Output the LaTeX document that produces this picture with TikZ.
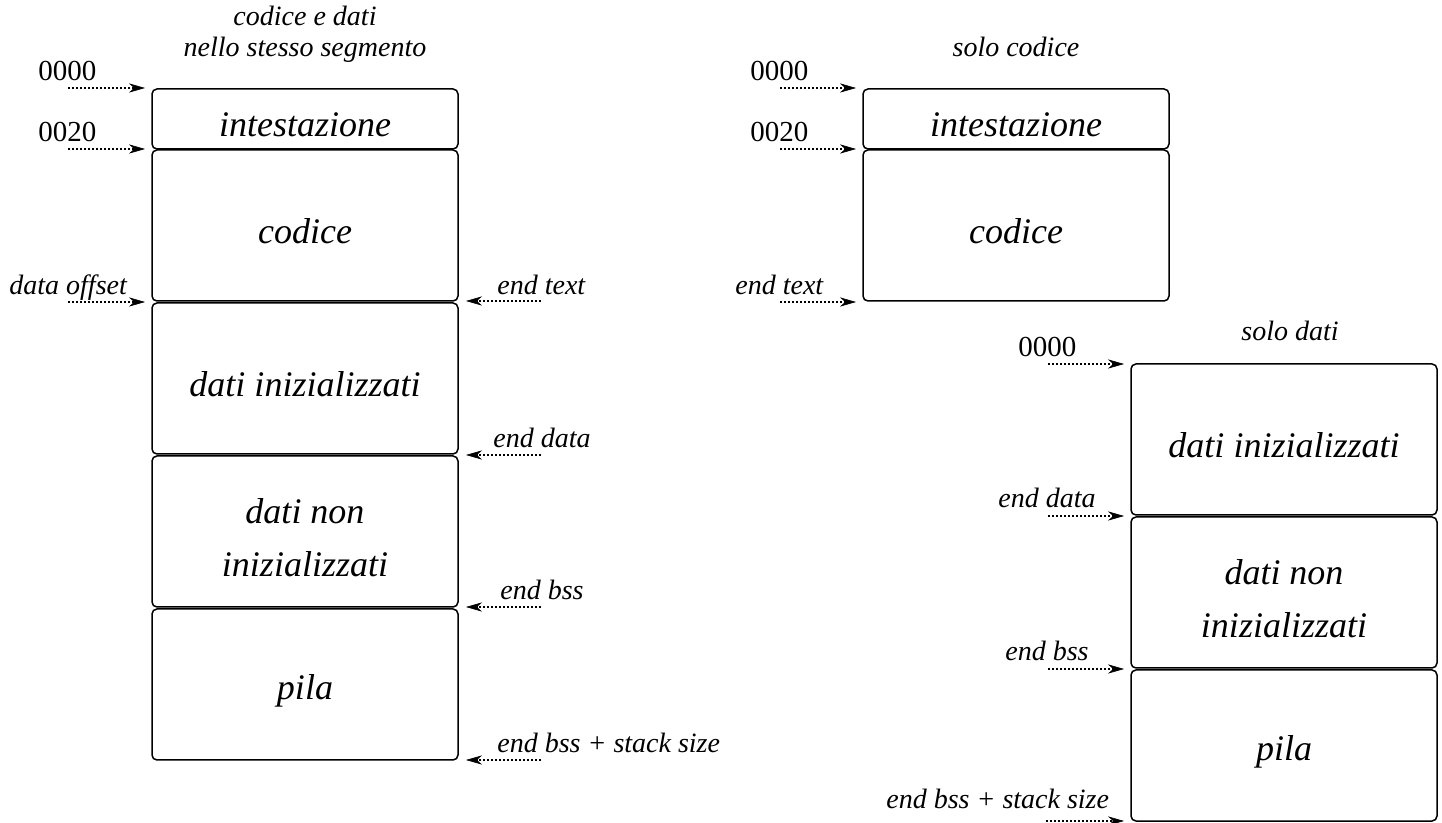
\documentclass[tikz,border=0pt]{standalone}
\usepackage{fontspec}
\setmainfont{Liberation Serif}
\usetikzlibrary{arrows.meta}
\begin{document}
\begin{tikzpicture}[x=0.5pt,y=-0.5pt,
  box/.style={draw,line width=0.75pt,rounded corners=2.5pt,minimum width=153pt,inner sep=0pt},
  boxtext/.style={inner sep=0pt,align=center,font=\fontsize{18}{26.5}\selectfont\itshape,yshift=-3pt},
  lbl/.style={inner sep=0pt,font=\fontsize{14}{17}\selectfont\itshape},
  num/.style={inner sep=0pt,font=\fontsize{14.5}{17}\selectfont},
  ptr/.style={line width=0.75pt,dash pattern=on 1pt off 1pt,-{Stealth[length=8pt,width=4.6pt,inset=2.6pt,line width=0.3pt]}}]
\useasboundingbox (0,0) rectangle (1442,823);
% titles
\node[lbl,anchor=base] (t1) at (305,26) {codice e dati};
\node[lbl,anchor=base] (t2) at (305,57) {nello stesso segmento};
\node[lbl,anchor=base] (t3) at (1016,57) {solo codice};
\node[lbl,anchor=base] (t4) at (1290,341) {solo dati};
% left column boxes
\node[box,minimum height=30pt,label={[boxtext]center:intestazione}] (L1) at (305,119) {};
\node[box,minimum height=75.5pt,label={[boxtext]center:codice}] (L2) at (305,225.5) {};
\node[box,minimum height=75.5pt,label={[boxtext]center:dati inizializzati}] (L3) at (305,378.5) {};
\node[box,minimum height=75.5pt,label={[boxtext]center:dati non\\inizializzati}] (L4) at (305,531.5) {};
\node[box,minimum height=75.5pt,label={[boxtext]center:pila}] (L5) at (305,684.5) {};
% middle column boxes
\node[box,minimum height=30pt,label={[boxtext]center:intestazione}] (M1) at (1016,119) {};
\node[box,minimum height=75.5pt,label={[boxtext]center:codice}] (M2) at (1016,225.5) {};
% right column boxes
\node[box,minimum height=75.5pt,label={[boxtext]center:dati inizializzati}] (R1) at (1284,439.5) {};
\node[box,minimum height=75.5pt,label={[boxtext]center:dati non\\inizializzati}] (R2) at (1284,592.5) {};
\node[box,minimum height=75.5pt,label={[boxtext]center:pila}] (R3) at (1284,745.5) {};
% labels left column
\node[num,anchor=base west] (a1) at (38,81) {0000};
\node[num,anchor=base west] (a2) at (38,142) {0020};
\node[lbl,anchor=base west] (a3) at (9,295) {data offset};
\node[lbl,anchor=base west] (b1) at (497,295) {end text};
\node[lbl,anchor=base west] (b2) at (493,448) {end data};
\node[lbl,anchor=base west] (b3) at (500,600) {end bss};
\node[lbl,anchor=base west] (b4) at (497,753) {end bss + stack size};
% labels middle column
\node[num,anchor=base west] (c1) at (750,81) {0000};
\node[num,anchor=base west] (c2) at (750,142) {0020};
\node[lbl,anchor=base west] (c3) at (735,295) {end text};
% labels right column
\node[num,anchor=base west] (d1) at (1018,357) {0000};
\node[lbl,anchor=base west] (d2) at (998,508) {end data};
\node[lbl,anchor=base west] (d3) at (1005,661) {end bss};
\node[lbl,anchor=base west] (d4) at (886,808) {end bss + stack size};
% arrow coordinates
\coordinate (a1s) at (68,88);   \coordinate (a1e) at (145,88);
\coordinate (a2s) at (68,149);  \coordinate (a2e) at (145,149);
\coordinate (a3s) at (68,302);  \coordinate (a3e) at (145,302);
\coordinate (b1s) at (541,301); \coordinate (b1e) at (466,301);
\coordinate (b2s) at (541,455); \coordinate (b2e) at (466,455);
\coordinate (b3s) at (541,607); \coordinate (b3e) at (466,607);
\coordinate (b4s) at (541,760); \coordinate (b4e) at (466,760);
\coordinate (c1s) at (780,88);  \coordinate (c1e) at (856,88);
\coordinate (c2s) at (780,149); \coordinate (c2e) at (856,149);
\coordinate (c3s) at (780,302); \coordinate (c3e) at (856,302);
\coordinate (d1s) at (1048,364); \coordinate (d1e) at (1124,364);
\coordinate (d2s) at (1048,516); \coordinate (d2e) at (1124,516);
\coordinate (d3s) at (1048,669); \coordinate (d3e) at (1124,669);
\coordinate (d4s) at (1046,821); \coordinate (d4e) at (1124,821);
\foreach \p in {a1,a2,a3,b1,b2,b3,b4,c1,c2,c3,d1,d2,d3,d4}
  \draw[ptr] (\p s) -- (\p e);
\end{tikzpicture}
\end{document}
